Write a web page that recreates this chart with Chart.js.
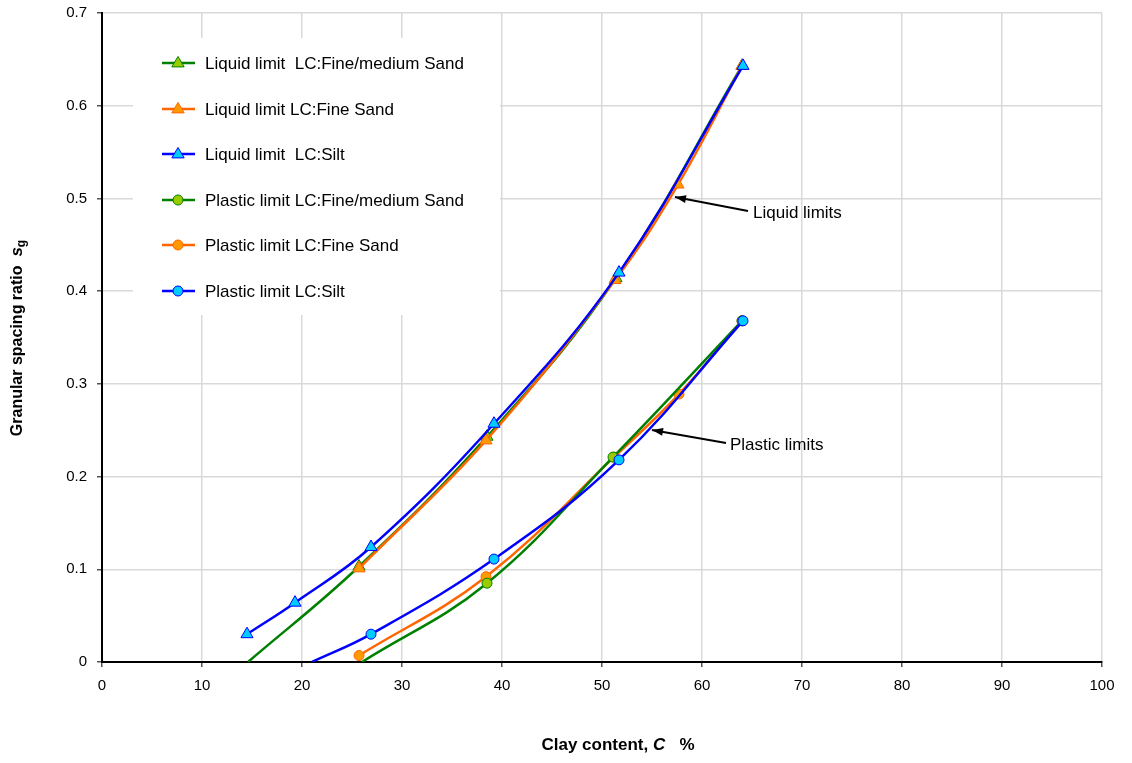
<!DOCTYPE html>
<html><head><meta charset="utf-8">
<script src="https://cdn.jsdelivr.net/npm/chart.js@4/dist/chart.umd.min.js"></script>
<style>html,body{margin:0;padding:0;background:#fff}#wrap{width:1132px;height:763px}</style>
</head><body><div id="wrap"><canvas id="c" width="1132" height="763"></canvas></div>
<script>
// Data (x = clay content %, y = granular spacing ratio)
const liqFM_x = [14.6, 25.7, 38.5, 51.4, 64.0];
const liqFM_y = [0.0, 0.103, 0.243, 0.414, 0.643];
const liqFS_x = [25.7, 38.4, 51.3, 57.6, 64.0];
const liqFS_y = [0.101, 0.239, 0.412, 0.515, 0.643];
const liqSi_x = [14.5, 19.3, 26.9, 39.2, 51.7, 64.1];
const liqSi_y = [0.030, 0.064, 0.124, 0.257, 0.420, 0.643];
const plaFM_x = [26.0, 38.5, 51.1, 64.0];
const plaFM_y = [0.0, 0.085, 0.221, 0.368];
const plaFS_x = [25.7, 38.4, 51.2, 57.7, 64.0];
const plaFS_y = [0.007, 0.092, 0.221, 0.289, 0.368];
const plaSi_x = [21.0, 26.9, 39.2, 51.7, 64.1];
const plaSi_y = [0.0, 0.030, 0.111, 0.218, 0.368];
const xTicks = [0,10,20,30,40,50,60,70,80,90,100];
const yTicks = [0,0.1,0.2,0.3,0.4,0.5,0.6,0.7];
const seriesNames = ['Liquid limit  LC:Fine/medium Sand','Liquid limit LC:Fine Sand','Liquid limit  LC:Silt',
  'Plastic limit LC:Fine/medium Sand','Plastic limit LC:Fine Sand','Plastic limit LC:Silt'];

const GREEN='#008000', GREENF='#99cc00', ORANGE='#ff6600', ORANGEF='#ff9900', BLUE='#0000ff', BLUEF='#00ccff';
function pts(xs, ys){ return xs.map((x,i)=>({x:x, y:ys[i]})); }
function radii(ys, r){ return ys.map(v => v===0 ? 0 : r); }
function ds(label, xs, ys, line, fill, style, r, order){
  return {label, data: pts(xs,ys), borderColor: line, backgroundColor: fill, pointBackgroundColor: fill,
    pointBorderColor: line, pointBorderWidth: 1, pointStyle: style, pointRadius: radii(ys, r),
    borderWidth: 2.5, tension: 0.4, showLine: true, order: order, fill:false};
}
const datasets = [
  ds(seriesNames[0], liqFM_x, liqFM_y, GREEN, GREENF, 'triangle', 7, 5),
  ds(seriesNames[1], liqFS_x, liqFS_y, ORANGE, ORANGEF, 'triangle', 7, 3),
  ds(seriesNames[2], liqSi_x, liqSi_y, BLUE, BLUEF, 'triangle', 7, 1),
  ds(seriesNames[3], plaFM_x, plaFM_y, GREEN, GREENF, 'circle', 5, 4),
  ds(seriesNames[4], plaFS_x, plaFS_y, ORANGE, ORANGEF, 'circle', 5, 6),
  ds(seriesNames[5], plaSi_x, plaSi_y, BLUE, BLUEF, 'circle', 5, 2),
];
const FONT = '"Liberation Sans", Arial, sans-serif';

const legendBox = {
  id:'legendBox',
  beforeDatasetsDraw(chart){
    const ctx = chart.ctx;
    ctx.save();
    ctx.fillStyle = '#fff';
    ctx.fillRect(133, 38, 367, 277);
    const ys = [63,109,154,200,245,291];
    datasets.forEach((d,i)=>{
      const y = ys[i];
      ctx.strokeStyle = d.borderColor; ctx.lineWidth = 2.5;
      ctx.beginPath(); ctx.moveTo(162,y); ctx.lineTo(195,y); ctx.stroke();
      ctx.fillStyle = d.pointBackgroundColor; ctx.strokeStyle = d.pointBorderColor; ctx.lineWidth=1;
      ctx.beginPath();
      if (d.pointStyle==='triangle'){
        const r=6.5; ctx.moveTo(178, y-r); ctx.lineTo(178+r*0.95, y+r*0.6); ctx.lineTo(178-r*0.95, y+r*0.6); ctx.closePath();
      } else { ctx.arc(178, y, 5, 0, Math.PI*2); }
      ctx.fill(); ctx.stroke();
      ctx.fillStyle = '#000'; ctx.font = '17px '+FONT; ctx.textBaseline='middle'; ctx.textAlign='left';
      ctx.fillText(d.label, 205, y+1);
    });
    ctx.restore();
  },
  afterDraw(chart){
    const ctx = chart.ctx;
    ctx.save();
    // annotations
    ctx.fillStyle='#000'; ctx.strokeStyle='#000'; ctx.lineWidth=2;
    ctx.font='17px '+FONT; ctx.textBaseline='middle'; ctx.textAlign='left';
    ctx.fillText('Liquid limits', 753, 213);
    ctx.fillText('Plastic limits', 730, 445);
    function arrow(x1,y1,x2,y2){
      ctx.beginPath(); ctx.moveTo(x1,y1); ctx.lineTo(x2,y2); ctx.stroke();
      const a=Math.atan2(y2-y1,x2-x1), L=11, w=4;
      ctx.beginPath(); ctx.moveTo(x2,y2);
      ctx.lineTo(x2-L*Math.cos(a)+w*Math.sin(a), y2-L*Math.sin(a)-w*Math.cos(a));
      ctx.lineTo(x2-L*Math.cos(a)-w*Math.sin(a), y2-L*Math.sin(a)+w*Math.cos(a));
      ctx.closePath(); ctx.fill();
    }
    arrow(748, 211, 675, 197);
    arrow(726, 443, 652, 430);
    // axis titles
    const BF='bold 17px '+FONT, IF='italic bold 17px '+FONT;
    ctx.font=BF;
    const t1='Clay content, ', t2='C', t3='   %';
    const w1=ctx.measureText(t1).width; ctx.font=IF;
    const w2=ctx.measureText(t2).width; ctx.font=BF; const w3=ctx.measureText(t3).width;
    let x0 = 618 - (w1+w2+w3)/2; ctx.textAlign='left';
    ctx.fillText(t1, x0, 745); ctx.font=IF; ctx.fillText(t2, x0+w1, 745);
    ctx.font=BF; ctx.fillText(t3, x0+w1+w2, 745);
    // y title rotated
    ctx.translate(18, 338); ctx.rotate(-Math.PI/2);
    const s1='Granular spacing ratio  ', s2='s', s3='g';
    ctx.font='bold 16px '+FONT; const a1=ctx.measureText(s1).width;
    ctx.font='italic bold 17px '+FONT; const a2=ctx.measureText(s2).width;
    ctx.font='bold 12px '+FONT; const a3=ctx.measureText(s3).width;
    let sx = -(a1+a2+a3)/2;
    ctx.font='bold 16px '+FONT; ctx.fillText(s1, sx, 0);
    ctx.font='italic bold 17px '+FONT; ctx.fillText(s2, sx+a1, -1);
    ctx.font='bold 12px '+FONT; ctx.fillText(s3, sx+a1+a2, 4);
    ctx.restore();
  }
};

new Chart(document.getElementById('c'), {
  type:'scatter',
  data:{datasets},
  options:{
    responsive:false, animation:false,
    layout:{padding:{left:0, top:13, right:30, bottom:0}},
    plugins:{legend:{display:false}, tooltip:{enabled:false}},
    scales:{
      x:{type:'linear', min:0, max:100,
        afterBuildTicks(s){ s.ticks = xTicks.map(v=>({value:v})); },
        afterFit(s){ s.height = 101; s.paddingLeft = 0; s.paddingRight = 0; },
        grid:{color:'#d9d9d9', lineWidth:1.5, tickLength:5, tickColor:'#555', drawTicks:true},
        border:{color:'#000', width:2},
        ticks:{font:{family:FONT, size:15}, color:'#000', padding:10, maxRotation:0, autoSkip:false}},
      y:{type:'linear', min:0, max:0.7,
        afterBuildTicks(s){ s.ticks = yTicks.map(v=>({value:v})); },
        afterFit(s){ s.width = 102; s.paddingTop = 0; s.paddingBottom = 0; },
        grid:{color:'#d9d9d9', lineWidth:1.5, tickLength:5, tickColor:'#555'},
        border:{color:'#000', width:2},
        ticks:{font:{family:FONT, size:15}, color:'#000', padding:10, autoSkip:false,
          callback:v=>String(Math.round(v*10)/10)}}
    }
  },
  plugins:[legendBox]
});
</script></body></html>
